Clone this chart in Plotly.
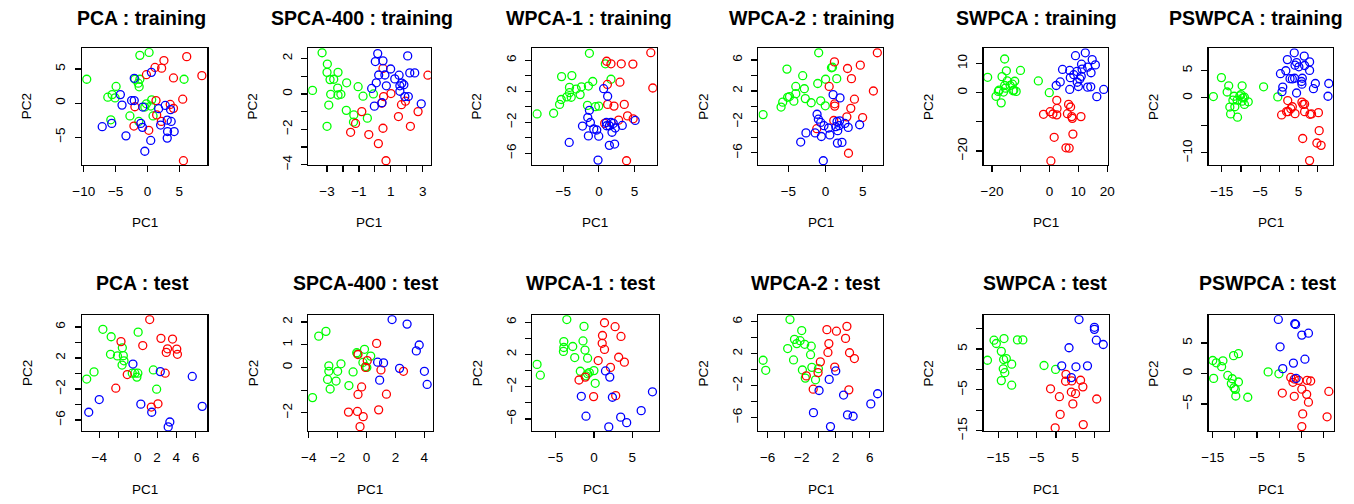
import plotly.graph_objects as go

W, H = 1354, 504

# ---------------- data ----------------
# PCA : training
pca_tr_g_x = [-9.53, -1.19, 0.26, 5.75, -1.97, -1.19, -1.45, -1.30, -4.92, -6.22, -5.54, -5.08, -0.16, 0.67, 0.52, -0.41, 0.88, -2.75, -5.75, -1.35]
pca_tr_g_y = [3.51, 7.02, 7.45, 3.51, 3.51, 3.51, 2.93, 2.40, 2.45, 0.87, 1.25, 0.77, -0.10, 0.48, -0.43, -0.58, -1.88, -1.88, -2.45, -2.69]
pca_tr_r_x = [6.17, 8.55, 2.59, 1.19, 2.23, -0.16, 4.09, 5.54, 1.35, 3.58, 4.09, -1.97, 1.45, 2.18, -2.12, 0.21, 5.65]
pca_tr_r_y = [6.83, 4.04, 6.25, 5.24, 5.14, 4.18, 3.70, 0.58, 0.38, -0.19, -0.77, -0.53, -1.73, -2.69, -3.37, -3.99, -8.46]
pca_tr_b_x = [0.62, -2.07, -4.25, -3.99, -2.49, -2.07, -0.73, 1.76, 2.80, 3.63, 3.73, 3.11, 2.07, 3.16, 4.20, 3.11, -1.04, -0.78, -3.37, -7.10, -5.60, 0.52, -0.41]
pca_tr_b_y = [4.52, 3.65, 1.25, -0.29, 0.38, 0.38, -0.58, -0.82, -0.34, -0.96, -2.69, -2.50, -3.22, -4.18, -4.18, -5.14, -2.98, -3.56, -4.81, -3.46, -2.98, -5.48, -7.07]

# SPCA-400 : training
spca_tr_g_x = [-3.31, -3.91, -2.98, -3.00, -2.81, -2.58, -2.31, -2.33, -2.77, -2.31, -2.13, -1.77, -1.05, -0.74, -0.09, -2.89, -1.79, -1.32, -1.34, -0.47, -3.00]
spca_tr_g_y = [2.33, 0.20, 1.69, 1.22, 0.81, 0.83, 1.22, 0.33, -0.02, -0.06, -0.02, 0.63, 0.41, -0.13, 0.00, -0.63, -0.93, -1.19, -1.59, -1.37, -1.83]
spca_tr_r_x = [3.33, 0.51, 0.55, 1.01, 0.43, 1.67, 1.92, -0.82, 1.48, 2.71, -1.21, 2.23, -1.52, -0.38, 0.51, 0.22, 0.70]
spca_tr_r_y = [1.06, 1.44, -0.15, 0.02, -0.52, -0.61, -0.41, -1.00, -1.28, -1.00, -1.67, -1.83, -2.17, -2.30, -1.94, -2.81, -3.78]
spca_tr_b_x = [0.18, 0.51, 0.03, 2.06, 0.99, 0.24, 0.63, 1.52, 2.19, 2.50, 1.25, 0.09, 0.72, -0.20, 1.57, 1.69, 1.82, 1.57, 1.88, 2.10, -0.03, 0.45, 2.91]
spca_tr_b_y = [2.28, 1.87, 1.83, 2.15, 1.41, 1.07, 1.07, 1.06, 1.19, 1.19, 0.85, 0.63, 0.46, 0.31, 0.46, 0.61, 0.52, 0.15, -0.15, -0.15, -0.69, -0.50, -0.56]

# WPCA-1 : training
wpca1_tr_g_x = [-8.67, -6.35, -5.51, -5.28, -4.49, -3.88, -4.12, -3.19, -2.63, -2.44, -1.47, -0.86, -5.23, -3.79, -1.60, -0.49, -0.02, -1.33, 0.91, 1.70, -4.12]
wpca1_tr_g_y = [-0.93, -0.84, 0.30, 0.93, 1.27, 1.22, 2.49, 2.28, 1.56, 2.57, 2.66, 3.25, 3.88, 4.01, 0.17, 0.00, 0.08, 6.88, 5.53, 3.54, 1.81]
wpca1_tr_r_x = [7.28, 7.56, 1.09, 1.70, 3.14, 4.77, 2.95, 1.19, 1.23, 2.12, 3.56, 4.02, 2.77, 4.81, 0.81, 3.88]
wpca1_tr_r_y = [6.96, 2.41, 5.86, 5.53, 5.53, 5.49, 3.16, 2.87, 0.30, 0.08, 0.30, -1.18, -1.73, -1.56, -2.15, -6.96]
wpca1_tr_b_x = [0.67, 1.23, -1.33, -1.56, -1.19, -2.30, -0.72, -0.30, 1.09, 1.70, 2.02, 1.47, 2.30, 3.28, 1.84, -0.02, -1.47, 1.47, 2.21, -4.16, -0.12, 5.09, 1.05]
wpca1_tr_b_y = [2.32, 1.35, -0.46, -1.39, -2.03, -2.49, -2.87, -3.00, -2.45, -2.03, -2.15, -2.45, -2.74, -2.41, -3.29, -3.80, -3.76, -4.98, -4.81, -4.60, -6.88, -1.77, -2.03]

# WPCA-2 : training
wpca2_tr_g_x = [-8.41, -5.99, -5.77, -5.11, -4.85, -4.27, -4.01, -4.01, -2.86, -2.73, -1.94, -5.20, -3.08, -1.06, 0.00, 1.50, 0.79, 0.93, -0.93, -0.66, -0.04]
wpca2_tr_g_y = [-1.06, -0.08, 0.55, 1.18, 1.27, 0.68, 1.65, 2.58, 2.28, 1.01, 0.47, 4.82, 3.97, 2.96, 3.51, 3.59, 4.99, 5.07, 6.93, 0.72, 0.08]
wpca2_tr_r_x = [6.96, 6.43, 1.19, 2.95, 4.67, 3.48, 0.48, 3.88, 1.23, 1.23, 3.39, 2.86, 4.98, 1.10, -1.19, 3.08]
wpca2_tr_r_y = [6.93, 1.99, 5.75, 4.90, 5.33, 3.59, 2.58, 0.93, 0.34, 0.04, -0.25, -1.35, -1.44, -1.82, -2.88, -6.05]
wpca2_tr_b_x = [1.01, 1.94, -1.15, -0.97, -0.66, -0.22, 0.40, 1.37, 1.81, 1.54, 1.89, 2.60, 3.04, 4.58, 1.63, 0.57, -0.57, -1.41, -2.64, 1.59, 2.20, -3.35, -0.31]
wpca2_tr_b_y = [1.52, 1.10, -1.01, -1.65, -2.07, -2.49, -2.79, -2.62, -2.49, -1.95, -1.86, -2.20, -2.71, -2.37, -3.13, -3.68, -3.89, -3.42, -3.42, -4.74, -4.65, -4.61, -7.02]

# SWPCA : training
swpca_tr_g_x = [-21.5, -15.6, -15.0, -16.5, -14.7, -15.6, -15.3, -17.5, -18.6, -17.8, -16.0, -16.8, -12.9, -12.1, -12.4, -11.6, -10.1, -3.9, -0.1, -13.7, -12.7]
swpca_tr_g_y = [5.28, 11.57, 7.53, 5.51, 4.04, 2.47, 1.57, 0.90, -1.24, 0.45, 0.22, -3.48, 2.92, 3.93, 0.90, 0.45, 7.64, 4.04, 0.00, 2.47, 0.67]
swpca_tr_r_x = [0.46, 1.6, 5.7, 6.8, 8.1, -2.1, 0.2, 1.15, 2.5, 2.6, 2.5, 6.2, 6.6, 7.3, 7.7, 7.9, 10.9]
swpca_tr_r_y = [-23.4, -15.3, -18.9, -19.0, -14.2, -7.4, -6.5, -7.3, -7.6, -5.4, -2.6, -7.2, -4.0, -4.9, -8.2, -8.8, -8.2]
swpca_tr_b_x = [2.3, 3.7, 4.5, 7.0, 7.0, 7.2, 8.4, 9.0, 9.6, 10.0, 10.5, 11.0, 11.1, 11.3, 12.4, 13.2, 13.2, 14.3, 14.4, 14.8, 15.9, 16.4, 18.8, 9.5]
swpca_tr_b_y = [2.47, 3.7, 7.98, 7.64, 1.12, 5.17, 6.18, 12.7, 3.6, 2.13, 4.72, 5.62, 9.78, 8.09, 13.7, 8.76, 1.91, 2.02, 6.85, 11.35, 9.55, -1.35, 1.12, 7.3]

# PSWPCA : training
pswpca_tr_g_x = [-17.2, -15.1, -13.2, -13.6, -11.8, -12.1, -12.9, -11.6, -12.7, -10.9, -11.0, -10.3, -9.5, -10.0, -9.7, -9.1, -9.1, -8.1, -9.7, -4.1, -0.4]
pswpca_tr_g_y = [0.24, 3.69, 2.20, 1.07, 0.30, -0.42, -1.67, -1.61, -2.92, -3.51, -0.42, 0.36, 0.00, 0.60, 2.20, 0.12, -1.19, -0.71, -0.60, 2.02, 0.18]
pswpca_tr_r_x = [0.6, 1.9, 2.3, 3.0, 3.4, 2.2, 4.1, 5.9, 6.2, 6.6, 6.6, 8.0, 8.4, 10.2, 10.4, 6.1, 9.8, 10.9, 7.9]
pswpca_tr_r_y = [-3.10, -2.5, -2.5, -1.96, -1.61, -0.48, -2.86, -0.77, -1.19, -1.13, -2.5, -2.98, -2.92, -2.68, -5.95, -7.38, -8.2, -8.63, -11.4]
pswpca_tr_b_x = [3.9, 6.5, 2.1, 4.5, 7.9, 4.1, 5.1, 6.6, 1.7, 0.3, 7.9, 6.0, 5.8, 5.9, 3.4, 4.0, 2.8, 0.9, 0.7, 4.5, 9.4, 8.9, 12.9, 12.7]
pswpca_tr_b_y = [8.2, 7.6, 6.96, 6.43, 6.55, 5.95, 5.65, 5.89, 4.94, 4.40, 5.0, 3.57, 2.98, 2.5, 3.45, 3.57, 3.5, 1.96, 1.13, 0.89, 2.62, 1.67, 2.62, 0.30]

# PCA : test
pca_te_g_x = [-5.31, -4.55, -3.63, -2.77, -2.84, -2.12, -1.61, -1.51, -1.44, -1.64, 0.03, -0.58, -0.31, 0.00, -0.10, 1.61, 1.95]
pca_te_g_y = [-0.71, 0.21, 5.71, 4.75, 2.48, 2.27, 3.32, 2.31, 1.64, 1.09, 5.34, 0.04, 0.04, 0.04, -0.46, 0.46, -2.02]
pca_te_r_x = [1.23, -1.75, 0.51, 2.40, 3.60, 3.08, 2.95, 4.04, 4.11, -1.10, 2.84, -2.29, 2.09, 1.40]
pca_te_r_y = [6.97, 4.12, 3.61, 4.54, 4.45, 3.19, 2.73, 3.15, 2.48, -0.13, 0.04, -1.89, -3.91, -4.33]
pca_te_b_x = [-0.51, 2.33, 5.65, -4.01, 0.31, 1.44, -5.10, 3.32, 3.15, 6.68]
pca_te_b_y = [1.22, 0.25, -0.38, -3.36, -3.95, -5.00, -5.00, -6.26, -6.89, -4.24]

# SPCA-400 : test
spca_te_g_x = [-3.74, -3.31, -2.81, -2.61, -2.61, -2.70, -2.52, -2.11, -2.00, -1.77, -1.22, -0.93, -0.68, -0.63, -0.14, -0.25, -0.07, 0.02, 0.29]
spca_te_g_y = [-1.33, 1.38, 1.59, 0.07, -0.17, -0.53, -0.95, -0.60, -0.17, 0.16, -0.80, -0.20, 0.65, 0.60, 0.80, 0.22, 0.04, 0.00, 0.50]
spca_te_r_x = [0.70, -0.59, 0.05, -0.07, 1.00, 2.56, -0.34, -0.59, 1.38, -1.25, -0.63, -0.23, 0.84, -0.45]
spca_te_r_y = [1.06, 0.57, 0.30, 0.00, -0.11, -0.17, -0.86, -1.19, -1.18, -1.97, -1.94, -2.17, -1.87, -2.61]
spca_te_b_x = [1.77, 2.81, 3.65, 3.45, 0.77, 1.18, 2.29, 0.91, 4.01, 4.20]
spca_te_b_y = [2.11, 1.91, 0.99, 0.73, 0.23, 0.20, -0.04, -0.56, -0.17, -0.75]

# WPCA-1 : test
wpca1_te_g_x = [-7.41, -6.98, -3.53, -3.92, -3.92, -3.97, -2.76, -2.50, -1.42, -1.29, -1.16, -0.82, -1.77, -0.82, -0.60, -1.03, 0.00, 0.17]
wpca1_te_g_y = [0.77, -0.57, 6.34, 3.60, 2.87, 2.38, 2.99, 1.62, 3.68, 5.49, 2.55, 1.54, -0.08, -0.40, -0.24, -0.65, 0.00, -1.58]
wpca1_te_r_x = [1.38, 2.76, 1.12, 3.53, 1.08, 1.38, 3.23, 3.97, 0.56, 2.16, -1.94, -1.12, -0.04, 2.84]
wpca1_te_r_y = [5.94, 5.45, 4.36, 4.24, 3.39, 2.63, 1.66, 1.05, 1.25, 0.40, -1.17, -0.81, -3.23, -3.11]
wpca1_te_b_x = [1.51, 2.07, -1.64, 2.41, 7.63, 6.16, -1.03, 3.49, 4.27, 1.94]
wpca1_te_b_y = [-0.04, -0.81, -3.19, -3.31, -2.63, -4.97, -5.66, -5.78, -6.46, -6.99]

# WPCA-2 : test
wpca2_te_g_x = [-6.54, -6.23, -3.38, -2.00, -2.85, -2.58, -2.19, -1.65, -0.88, -3.65, -0.96, -2.96, -1.92, -0.81, -0.04, -1.58, -0.38]
wpca2_te_g_y = [1.18, -0.08, 6.29, 4.90, 3.80, 3.27, 3.63, 3.18, 2.94, 2.65, 1.88, 1.22, -0.04, 0.29, 0.12, -1.06, -1.27]
wpca2_te_r_x = [0.96, 2.08, 3.31, 3.15, 1.19, 1.08, 3.62, 4.19, 0.19, 1.88, -0.08, -1.46, -0.65, 3.54]
wpca2_te_r_y = [5.02, 4.82, 5.43, 3.92, 3.27, 2.16, 2.12, 1.39, 0.98, 0.33, -0.37, -0.78, -2.45, -2.53]
wpca2_te_b_x = [2.00, 1.23, 0.04, 2.92, 6.92, 6.12, -0.62, 3.38, 4.04, 1.38]
wpca2_te_b_y = [-0.16, -1.22, -2.61, -3.18, -3.02, -4.29, -5.39, -5.67, -5.84, -7.14]

# SWPCA : test
swpca_te_g_x = [-17.8, -16.1, -15.5, -13.5, -10.0, -8.6, -14.2, -13.6, -12.9, -11.5, -13.7, -13.3, -14.2, -11.5, -3.1, -0.1]
swpca_te_g_y = [2.25, 7.15, 6.35, 7.55, 7.23, 7.23, 4.42, 2.41, 2.65, 1.29, 0.16, -0.80, -2.73, -3.86, 0.96, 0.00]
swpca_te_r_x = [2.6, 2.5, 4.1, 6.4, 7.0, -1.4, 0.9, 4.0, 5.1, 4.4, 1.1, -0.2, 7.1, 10.6]
swpca_te_r_y = [-1.20, -2.89, -2.81, -2.65, -4.26, -4.74, -6.67, -5.54, -5.94, -8.43, -11.0, -14.3, -13.5, -7.23]
swpca_te_b_x = [6.0, 10.0, 10.0, 10.5, 12.3, 3.4, 1.5, 5.2, 8.2, 4.0]
swpca_te_b_y = [12.2, 10.3, 9.8, 7.15, 6.10, 5.30, 0.88, 0.64, 0.88, -2.0]

# PSWPCA : test
pswpca_te_g_x = [-15.0, -14.2, -12.7, -13.0, -14.8, -10.3, -9.2, -11.6, -10.6, -10.8, -9.2, -10.2, -9.9, -9.8, -7.1, -2.5, -0.07]
pswpca_te_g_y = [2.14, 1.76, 2.09, 1.12, -0.80, 2.94, 3.26, -0.32, -0.86, -1.66, -1.39, -2.35, -2.62, -3.69, -3.90, 0.27, -0.05]
pswpca_te_r_x = [2.6, 3.1, 3.4, 4.4, 6.3, 7.1, 5.1, 6.2, 6.6, 0.7, 3.4, 11.2, 5.3, 10.8, 5.1]
pswpca_te_r_y = [-0.64, -1.44, -0.91, -1.12, -1.12, -1.23, -2.57, -3.42, -4.71, -3.21, -3.74, -2.94, -6.63, -7.11, -8.72]
pswpca_te_b_x = [-0.2, 3.5, 3.7, 6.6, 5.1, 0.2, 5.8, 3.2, 0.8, 3.8]
pswpca_te_b_y = [8.88, 8.18, 8.07, 6.63, 6.31, 4.39, 2.35, 1.71, 0.80, -0.80]

titles = ["PCA : training", "SPCA-400 : training", "WPCA-1 : training", "WPCA-2 : training",
          "SWPCA : training", "PSWPCA : training",
          "PCA : test", "SPCA-400 : test", "WPCA-1 : test", "WPCA-2 : test",
          "SWPCA : test", "PSWPCA : test"]

series = [
    (pca_tr_g_x, pca_tr_g_y, pca_tr_r_x, pca_tr_r_y, pca_tr_b_x, pca_tr_b_y),
    (spca_tr_g_x, spca_tr_g_y, spca_tr_r_x, spca_tr_r_y, spca_tr_b_x, spca_tr_b_y),
    (wpca1_tr_g_x, wpca1_tr_g_y, wpca1_tr_r_x, wpca1_tr_r_y, wpca1_tr_b_x, wpca1_tr_b_y),
    (wpca2_tr_g_x, wpca2_tr_g_y, wpca2_tr_r_x, wpca2_tr_r_y, wpca2_tr_b_x, wpca2_tr_b_y),
    (swpca_tr_g_x, swpca_tr_g_y, swpca_tr_r_x, swpca_tr_r_y, swpca_tr_b_x, swpca_tr_b_y),
    (pswpca_tr_g_x, pswpca_tr_g_y, pswpca_tr_r_x, pswpca_tr_r_y, pswpca_tr_b_x, pswpca_tr_b_y),
    (pca_te_g_x, pca_te_g_y, pca_te_r_x, pca_te_r_y, pca_te_b_x, pca_te_b_y),
    (spca_te_g_x, spca_te_g_y, spca_te_r_x, spca_te_r_y, spca_te_b_x, spca_te_b_y),
    (wpca1_te_g_x, wpca1_te_g_y, wpca1_te_r_x, wpca1_te_r_y, wpca1_te_b_x, wpca1_te_b_y),
    (wpca2_te_g_x, wpca2_te_g_y, wpca2_te_r_x, wpca2_te_r_y, wpca2_te_b_x, wpca2_te_b_y),
    (swpca_te_g_x, swpca_te_g_y, swpca_te_r_x, swpca_te_r_y, swpca_te_b_x, swpca_te_b_y),
    (pswpca_te_g_x, pswpca_te_g_y, pswpca_te_r_x, pswpca_te_r_y, pswpca_te_b_x, pswpca_te_b_y),
]

# axis ticks: (tick values, labelled values)
x_ticks = [
    ([-10, -5, 0, 5], [-10, -5, 0, 5]),
    ([-3, -2, -1, 0, 1, 2, 3], [-3, -1, 1, 3]),
    ([-5, 0, 5], [-5, 0, 5]),
    ([-5, 0, 5], [-5, 0, 5]),
    ([-20, -10, 0, 10, 20], [-20, 0, 10, 20]),
    ([-15, -10, -5, 0, 5, 10], [-15, -5, 5]),
    ([-4, -2, 0, 2, 4, 6], [-4, 0, 2, 4, 6]),
    ([-4, -2, 0, 2, 4], [-4, -2, 0, 2, 4]),
    ([-5, 0, 5], [-5, 0, 5]),
    ([-6, -4, -2, 0, 2, 4, 6], [-6, -2, 2, 6]),
    ([-15, -10, -5, 0, 5, 10], [-15, -5, 5]),
    ([-15, -10, -5, 0, 5, 10], [-15, -5, 5]),
]
y_ticks = [
    ([-5, 0, 5], [-5, 0, 5]),
    ([-4, -3, -2, -1, 0, 1, 2], [-4, -2, 0, 2]),
    ([-6, -4, -2, 0, 2, 4, 6], [-6, -2, 2, 6]),
    ([-6, -4, -2, 0, 2, 4, 6], [-6, -2, 2, 6]),
    ([-20, -10, 0, 10], [-20, 0, 10]),
    ([-10, -5, 0, 5], [-10, 0, 5]),
    ([-6, -4, -2, 0, 2, 4, 6], [-6, -2, 2, 6]),
    ([-2, -1, 0, 1, 2], [-2, 0, 1, 2]),
    ([-6, -4, -2, 0, 2, 4, 6], [-6, -2, 2, 6]),
    ([-6, -4, -2, 0, 2, 4, 6], [-6, -2, 2, 6]),
    ([-15, -10, -5, 0, 5, 10], [-15, -5, 5]),
    ([-5, 0, 5], [-5, 0, 5]),
]

x_ranges = [(-10.26, 9.43), (-4.18, 3.50), (-9.33, 8.12), (-9.03, 7.71), (-22.9, 20.3), (-18.4, 14.05),
            (-5.79, 7.23), (-4.04, 4.58), (-8.02, 8.45), (-7.08, 7.54), (-18.8, 13.8), (-15.9, 12.4)]
y_ranges = [(-9.09, 8.08), (-4.02, 2.59), (-7.51, 7.55), (-7.57, 7.53), (-24.8, 15.3), (-12.2, 9.05),
            (-7.44, 7.52), (-2.81, 2.30), (-7.52, 6.87), (-7.71, 6.82), (-15.1, 13.25), (-9.47, 9.57)]

# ---------------- layout geometry (pixels) ----------------
box_x = [(73, 200), (302, 426), (529, 655), (758, 884), (986, 1112), (1214, 1340),
         (73, 200), (302, 428), (529, 657), (758, 884), (986, 1113), (1214, 1341)]
box_y = [(49, 168)] * 6 + [(321, 439)] * 6
title_cx = [133, 356, 586, 812, 1040, 1262, 134.5, 360.5, 588, 815.5, 1048, 1273]
title_cy = [18] * 6 + [288] * 6

FONT = "Liberation Sans, Arial, Helvetica, sans-serif"
GREEN, RED, BLUE = "#00FF00", "#FF0000", "#0000FF"


def lab(v):
    return str(v).replace("-", "\u2212")


fig = go.Figure()
annotations = []
for i in range(12):
    gx, gy, rx, ry, bx, by = series[i]
    xa = "x" if i == 0 else f"x{i+1}"
    ya = "y" if i == 0 else f"y{i+1}"
    for xs, ys, col in ((gx, gy, GREEN), (rx, ry, RED), (bx, by, BLUE)):
        fig.add_trace(go.Scatter(
            x=xs, y=ys, xaxis=xa, yaxis=ya, mode="markers",
            marker=dict(symbol="circle-open", size=8, color=col, line=dict(width=1.3, color=col)),
            showlegend=False, hoverinfo="skip"))
    x0, x1 = box_x[i]
    y0, y1 = box_y[i]
    xt, xl = x_ticks[i]
    yt, yl = y_ticks[i]
    axis_common = dict(showgrid=False, zeroline=False, showline=True, mirror=True,
                       linecolor="black", linewidth=1.3, ticks="outside", ticklen=6,
                       tickwidth=1.2, tickcolor="black", fixedrange=True,
                       tickfont=dict(family=FONT, size=13.5, color="black"))
    xk = "xaxis" if i == 0 else f"xaxis{i+1}"
    yk = "yaxis" if i == 0 else f"yaxis{i+1}"
    fig.layout[xk] = dict(
        domain=[x0 / W, x1 / W], anchor=ya, range=list(x_ranges[i]),
        tickvals=xt, ticktext=[lab(v) if v in xl else "" for v in xt],
        ticklabelstandoff=7, **axis_common)
    fig.layout[yk] = dict(
        domain=[1 - y1 / H, 1 - y0 / H], anchor=xa, range=list(y_ranges[i]),
        tickvals=yt, ticktext=[lab(v) if v in yl else "" for v in yt],
        tickangle=-90, ticklabelstandoff=4, **axis_common)
    cx = (x0 + x1) / 2
    cy = (y0 + y1) / 2
    annotations.append(dict(text=f"<b>{titles[i]}</b>", x=title_cx[i] / W, y=1 - title_cy[i] / H,
                            xref="paper", yref="paper", xanchor="center", yanchor="middle",
                            showarrow=False, font=dict(family=FONT, size=19.5, color="black")))
    annotations.append(dict(text="PC1", x=cx / W, y=1 - (y1 + 59) / H,
                            xref="paper", yref="paper", xanchor="center", yanchor="middle",
                            showarrow=False, font=dict(family=FONT, size=13.5, color="black")))
    annotations.append(dict(text="PC2", x=(x0 - 56) / W, y=1 - cy / H, textangle=-90,
                            xref="paper", yref="paper", xanchor="center", yanchor="middle",
                            showarrow=False, font=dict(family=FONT, size=13.5, color="black")))

fig.update_layout(
    width=W, height=H, margin=dict(l=0, r=0, t=0, b=0),
    paper_bgcolor="white", plot_bgcolor="white", hovermode=False,
    annotations=annotations, font=dict(family=FONT, color="black"))

fig.write_html("out.html", config={"displayModeBar": False, "staticPlot": True},
               post_script="document.body.style.margin='0';document.body.style.padding='0';")
